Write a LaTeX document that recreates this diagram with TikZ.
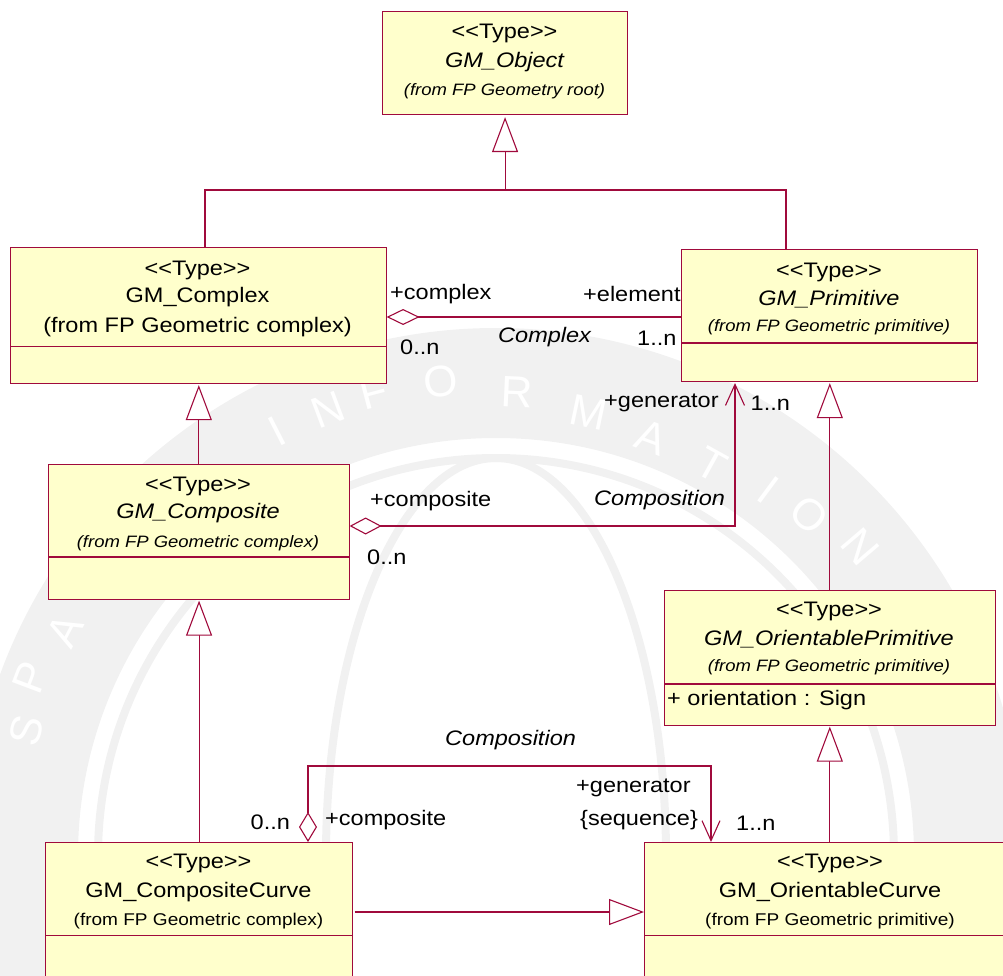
\documentclass[tikz,border=0pt]{standalone}
\usepackage{fontspec}
\newfontfamily\umlfont[FakeStretch=1.12]{Liberation Sans}
\newfontfamily\markfont{Liberation Sans}
\usetikzlibrary{arrows.meta,calc}
\definecolor{umlline}{RGB}{160,10,60}
\definecolor{umlfill}{RGB}{255,255,204}
\definecolor{markgray}{gray}{0.945}
\newcommand{\stereo}{<\kern0pt<Type>\kern0pt>}
\begin{document}
\begin{tikzpicture}[x=1pt,y=-1pt,
  box/.style={draw=umlline, fill=umlfill, line width=1.1pt, rectangle,
    anchor=north west, inner sep=0pt},
  txt/.style={font=\umlfont\fontsize{21}{24}\selectfont, inner sep=0pt, text=black},
  itx/.style={font=\umlfont\itshape\fontsize{21}{24}\selectfont, inner sep=0pt, text=black},
  fromit/.style={font=\umlfont\itshape\fontsize{16.5}{19}\selectfont, inner sep=0pt, text=black},
  fromrm/.style={font=\umlfont\fontsize{17}{20}\selectfont, inner sep=0pt, text=black},
  lbl/.style={txt, anchor=west},
  ilbl/.style={itx, anchor=west},
  wire/.style={draw=umlline, line width=1.1pt},
  gen/.style={wire, -{Triangle[length=35pt,width=26pt,fill=white,line width=1.1pt]}},
  wmletter/.style={font=\markfont\fontsize{44}{46}\selectfont, text=white, inner sep=0pt},
  wmline/.style={draw=markgray, line width=8pt}
]
\useasboundingbox (0,0) rectangle (1003,976);
\clip (0,0) rectangle (1003,976);

% faint seal in the background
\coordinate (wc) at (496,856);
\fill[markgray, even odd rule] (wc) circle[radius=528] (wc) circle[radius=418];
\draw[wmline] (wc) circle[radius=398];
\draw[wmline] (wc) ellipse[x radius=170, y radius=398];
\foreach \ch/\px/\py/\rot [count=\i] in {I/277/431/27, N/328/410/20.6, F/374/392/14.7,
    O/441/381/6.6, R/517/392/-2.6, M/589/412/-11.8, A/651/437/-20.2, T/712/465/-28.9,
    I/768/490/-36.5, O/809/515/-42.5, N/860/547/-49.6} {
  \node[wmletter, rotate=\rot] (wm\i) at (\px,\py) {\ch};
}
\foreach \ch/\px/\py/\rot [count=\i] in {S/26/731/75.9, P/30/677/69.4, A/65/630/62.4} {
  \node[wmletter, rotate=\rot] (ws\i) at (\px,\py) {\ch};
}

% class boxes
\node[box, minimum width=245pt, minimum height=103pt] (obj) at (382,11) {};
\node[box, minimum width=375.5pt, minimum height=136pt] (cplx) at (10,247) {};
\node[box, minimum width=295.5pt, minimum height=132pt] (prim) at (681,249) {};
\node[box, minimum width=300.5pt, minimum height=134.5pt] (comp) at (48,464) {};
\node[box, minimum width=330.5pt, minimum height=134.5pt] (oprim) at (664,590) {};
\node[box, minimum width=307pt, minimum height=160pt] (ccurve) at (45,842) {};
\node[box, minimum width=380pt, minimum height=160pt] (ocurve) at (644,842) {};

% compartment dividers
\draw[wire] (cplx.west |- 0,346.5) -- (cplx.east |- 0,346.5);
\draw[wire] (prim.west |- 0,343) -- (prim.east |- 0,343);
\draw[wire] (comp.west |- 0,557) -- (comp.east |- 0,557);
\draw[wire] (oprim.west |- 0,684) -- (oprim.east |- 0,684);
\draw[wire] (ccurve.west |- 0,935.5) -- (ccurve.east |- 0,935.5);
\draw[wire] (ocurve.west |- 0,935.5) -- (ocurve.east |- 0,935.5);

% box texts
\node[txt] (objs) at (504.5,33) {\stereo};
\node[itx] (objn) at (504.5,62) {GM\_Object};
\node[fromit] (objf) at (504.5,91) {(from FP Geometry root)};

\node[txt] (cplxs) at (197.5,270) {\stereo};
\node[txt] (cplxn) at (197.5,297.5) {GM\_Complex};
\node[txt] (cplxf) at (197.5,327) {(from FP Geometric complex)};

\node[txt] (prims) at (829,272) {\stereo};
\node[itx] (primn) at (829,299) {GM\_Primitive};
\node[fromit] (primf) at (829,327) {(from FP Geometric primitive)};

\node[txt] (comps) at (198,486.5) {\stereo};
\node[itx] (compn) at (198,513) {GM\_Composite};
\node[fromit] (compf) at (198,543) {(from FP Geometric complex)};

\node[txt] (oprims) at (829,611.5) {\stereo};
\node[itx] (oprimn) at (829,639) {GM\_OrientablePrimitive};
\node[fromit] (oprimf) at (829,667) {(from FP Geometric primitive)};
\node[lbl] (oprima) at (667,700) {+ orientation : Sign};

\node[txt] (ccurves) at (198.5,863) {\stereo};
\node[txt] (ccurven) at (198.5,892) {GM\_CompositeCurve};
\node[fromrm] (ccurvef) at (198.5,921) {(from FP Geometric complex)};

\node[txt] (ocurves) at (830,863) {\stereo};
\node[txt] (ocurven) at (830,892) {GM\_OrientableCurve};
\node[fromrm] (ocurvef) at (830,921) {(from FP Geometric primitive)};

% generalizations
\coordinate (jl) at (205,190);
\coordinate (jr) at (786,190);
\draw[wire] (jl |- cplx.north) -- (jl) -- (jr) -- (jr |- prim.north);
\draw[gen] (obj.south |- jl) -- ([yshift=-2pt]obj.south);
\draw[gen] (comp.north) -- ([yshift=-1pt]comp.north |- cplx.south);
\draw[gen] (oprim.north) -- ([yshift=-1pt]oprim.north |- prim.south);
\draw[gen] (ccurve.north) -- ([yshift=-1pt]ccurve.north |- comp.south);
\draw[gen] (ocurve.north -| oprim.south) -- ([yshift=-1pt]oprim.south);
\draw[gen] ([xshift=1.5pt]ccurve.east |- 0,912) -- (ocurve.west |- 0,912);

% association Complex
\draw[wire, {Diamond[length=33pt,width=16pt,fill=white,line width=1.1pt]}-]
  (cplx.east |- 0,317) -- (prim.west |- 0,317);
\node[lbl] (l1) at (390,294) {+complex};
\node[lbl] (l2) at (400,347) {0..n};
\node[ilbl] (l3) at (498,337) {Complex};
\node[lbl] (l4) at (583,294) {+element};
\node[lbl] (l5) at (637,338) {1..n};

% composition GM_Composite -> GM_Primitive
\coordinate (c1) at (735,526);
\draw[wire, {Diamond[length=32pt,width=17pt,fill=white,line width=1.1pt]}-{Straight Barb[length=21pt,width=19pt,line width=1.1pt]}]
  (comp.east |- c1) -- (c1) -- ([yshift=-1pt]c1 |- prim.south);
\node[lbl] (l6) at (370,501.5) {+composite};
\node[lbl] (l7) at (367,557) {0..n};
\node[ilbl] (l8) at (594,500) {Composition};
\node[lbl] (l9) at (604,403) {+generator};
\node[lbl] (l10) at (750.5,403) {1..n};

% composition GM_CompositeCurve -> GM_OrientableCurve
\coordinate (c2) at (308,766);
\coordinate (c3) at (711,766);
\draw[wire, {Diamond[length=30pt,width=18pt,fill=white,line width=1.1pt]}-{Straight Barb[length=20pt,width=18pt,line width=1.1pt]}]
  (c2 |- ccurve.north) -- (c2) -- (c3) -- (c3 |- ocurve.north);
\node[ilbl] (l11) at (445,740) {Composition};
\node[lbl] (l12) at (250.5,822) {0..n};
\node[lbl] (l13) at (325,820) {+composite};
\node[lbl] (l14) at (576,788) {+generator};
\node[lbl] (l15) at (580,820) {\{sequence\}};
\node[lbl] (l16) at (736,823) {1..n};
\end{tikzpicture}
\end{document}
